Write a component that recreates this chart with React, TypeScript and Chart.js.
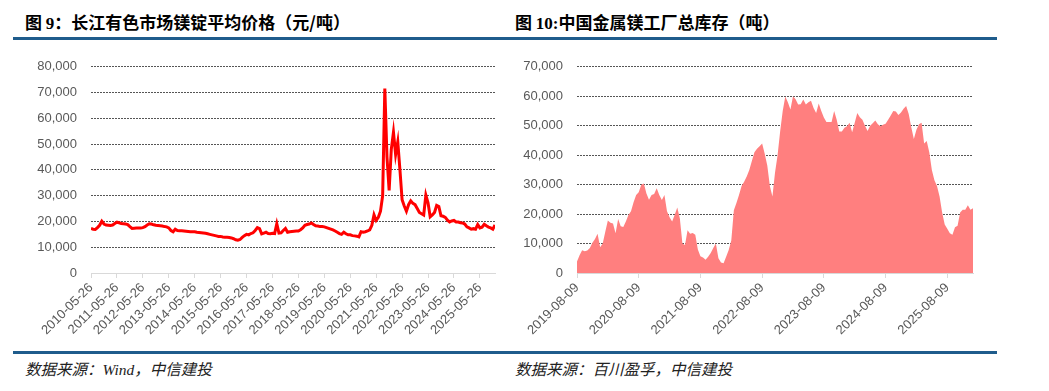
import React, { useEffect, useRef } from 'react';
import { Chart, registerables } from 'chart.js';

Chart.register(...registerables);

// ---- Figure 9: monthly Mg ingot price (yuan/ton), 2010-05 .. 2025-12 ----
const priceTickLabels = [
  '2010-05-26', '2011-05-26', '2012-05-26', '2013-05-26', '2014-05-26', '2015-05-26',
  '2016-05-26', '2017-05-26', '2018-05-26', '2019-05-26', '2020-05-26', '2021-05-26',
  '2022-05-26', '2023-05-26', '2024-05-26', '2025-05-26',
];
const priceValues = [
  17300, 17000, 16900, 17600, 18500, 20100, 19000, 18600, 18500, 18400, 18600, 19200,
  19700, 19500, 19200, 19100, 19000, 18800, 18000, 17300, 17400, 17500, 17500, 17500,
  17600, 18000, 18600, 19100, 19000, 18700, 18500, 18400, 18300, 18200, 18000, 17900,
  17500, 16500, 16000, 17000, 16500, 16400, 16400, 16300, 16200, 16100, 16000, 16000,
  16000, 15800, 15700, 15600, 15500, 15400, 15200, 15000, 14800, 14600, 14400, 14200,
  14200, 14000, 13900, 13900, 13800, 13600, 13300, 12900, 12700, 13000, 13800, 14500,
  15000, 14800, 15300, 15600, 16500, 17600, 17200, 15200, 15500, 15800, 15300, 15200,
  15400, 15300, 19100, 15500, 15600, 16500, 17300, 15800, 16000, 16100, 16200, 16300,
  16300, 16800, 17500, 18500, 18800, 19000, 19400, 18800, 18300, 18200, 18000, 18000,
  17900, 17600, 17300, 17000, 16700, 16300, 15800, 15300, 15000, 15800, 15200, 14800,
  14800, 14500, 14400, 14300, 14000, 16000, 15800, 16000, 16300, 16700, 18500, 22600,
  20400, 21600, 24000, 30000, 71600, 45000, 32000, 48000, 54600, 46000, 50900, 40000,
  28400, 26000, 24000, 26500, 28000, 27000, 26500, 25000, 23500, 23000, 22500, 30200,
  27200, 21800, 22500, 23500, 26200, 25800, 22200, 22000, 21600, 20500, 19800, 20200,
  20400, 19800, 19800, 19500, 19400, 19000, 17900, 17500, 17000, 17200, 17000, 18800,
  17500, 17800, 18900, 18300, 17800, 17500, 17000, 18600,
];
const priceTickIndex = priceTickLabels.map((_, i) => i * 12);

// ---- Figure 10: semi-monthly total Mg plant inventory (tons), 2019-08 .. 2026-01 ----
const stockTickLabels = [
  '2019-08-09', '2020-08-09', '2021-08-09', '2022-08-09', '2023-08-09', '2024-08-09', '2025-08-09',
];
const stockValues = [
  3900, 6000, 7700, 7400, 7600, 8500, 10300, 11500, 13300, 8700,
  10000, 14000, 17800, 17100, 16800, 13500, 18300, 15900, 15600, 17500,
  19700, 21000, 24000, 26500, 27400, 30000, 30400, 27000, 24900, 26500,
  26800, 28800, 26500, 24800, 26500, 21000, 18900, 17500, 19800, 22200,
  18500, 10000, 9500, 14500, 13300, 13600, 13000, 8000, 5700, 5300,
  4500, 5500, 6800, 8500, 10000, 5000, 3600, 3300, 5500, 7800,
  11000, 21300, 23800, 26500, 29500, 31000, 32800, 35000, 38000, 41000,
  42200, 43000, 44000, 40500, 36500, 29500, 26000, 34000, 40000, 48000,
  55000, 59900, 58000, 55500, 60000, 59000, 57200, 57300, 58900, 57200,
  58000, 58500, 56000, 54300, 57500, 55000, 52800, 51300, 51300, 51300,
  55000, 52000, 48000, 48000, 49300, 49800, 51000, 47800, 51000, 54300,
  52900, 52000, 50000, 48200, 50000, 50800, 51800, 50500, 49800, 50300,
  50700, 52000, 53500, 55000, 54800, 53600, 54500, 55800, 56700, 54000,
  49500, 45500, 48600, 50500, 51000, 44000, 44800, 41000, 35000, 31500,
  29500, 26000, 20500, 16500, 15000, 13500, 13000, 15500, 16000, 20500,
  21500, 21500, 23000, 21500, 22000,
];
const stockTickIndex = stockTickLabels.map((_, i) => i * 24);

const TICK_FONT = { family: '"Liberation Sans", Arial, sans-serif', size: 13 };
const TICK_COLOR = '#595959';

type PanelProps = {
  values: number[];
  tickIndex: number[];
  tickLabels: string[];
  yMax: number;
  yWidth: number;
  padRight: number;
  width: number;
  height: number;
  area: boolean;
  color: string;
};

function Panel(p: PanelProps) {
  const ref = useRef<HTMLCanvasElement>(null);
  useEffect(() => {
    if (!ref.current) return;
    const data = p.values.map((v, i) => ({ x: i, y: v }));
    const chart = new Chart(ref.current, {
      type: 'line',
      data: {
        datasets: [
          {
            data,
            borderColor: p.area ? 'rgba(0,0,0,0)' : p.color,
            borderWidth: p.area ? 0 : 3,
            backgroundColor: p.color,
            fill: p.area ? 'origin' : false,
            pointRadius: 0,
            tension: 0,
          },
        ],
      },
      options: {
        animation: false,
        responsive: false,
        maintainAspectRatio: false,
        events: [],
        layout: { padding: { top: 12, right: p.padRight, left: 0, bottom: 0 } },
        plugins: { legend: { display: false }, tooltip: { enabled: false } },
        scales: {
          x: {
            type: 'linear',
            min: 0,
            max: p.values.length - 1,
            afterBuildTicks: (s: any) => {
              s.ticks = p.tickIndex.map((v) => ({ value: v }));
            },
            afterFit: (s: any) => {
              s.height = 72;
            },
            grid: { drawOnChartArea: false, drawTicks: true, tickLength: 5, color: '#d9d9d9' },
            border: { display: true, color: '#d9d9d9' },
            ticks: {
              autoSkip: false,
              minRotation: 45,
              maxRotation: 45,
              padding: 2,
              color: TICK_COLOR,
              font: TICK_FONT,
              callback: (_v: any, i: number) => p.tickLabels[i],
            },
          },
          y: {
            min: 0,
            max: p.yMax,
            afterFit: (s: any) => {
              s.width = p.yWidth;
            },
            grid: {
              drawTicks: false,
              lineWidth: 1,
              color: (ctx: any) => (ctx.tick && ctx.tick.value === 0 ? 'rgba(0,0,0,0)' : '#555555'),
            },
            border: { display: false, dash: [2, 1] },
            ticks: {
              stepSize: 10000,
              padding: 14,
              color: TICK_COLOR,
              font: TICK_FONT,
              callback: (v: any) => Number(v).toLocaleString('en-US'),
            },
          },
        },
      } as any,
    });
    return () => chart.destroy();
  }, []);
  return (
    <canvas
      ref={ref}
      width={p.width}
      height={p.height}
      style={{ width: p.width, height: p.height, display: 'block' }}
    />
  );
}

const titleStyle: React.CSSProperties = {
  position: 'absolute',
  top: 12,
  fontFamily: '"Noto Sans CJK SC", sans-serif',
  fontWeight: 700,
  fontSize: 17,
  lineHeight: '20px',
  color: '#000',
  whiteSpace: 'nowrap',
};
const numStyle: React.CSSProperties = { fontFamily: '"Liberation Serif", serif', fontWeight: 700 };
const sourceStyle: React.CSSProperties = {
  position: 'absolute',
  top: 361,
  fontFamily: '"Liberation Serif", "Noto Sans CJK SC", serif',
  fontStyle: 'italic',
  fontSize: 15.5,
  lineHeight: '18px',
  color: '#222',
  whiteSpace: 'nowrap',
};
const ruleStyle: React.CSSProperties = {
  position: 'absolute',
  left: 13,
  width: 984,
  height: 3,
  background: '#1F5C8C',
};

export default function App() {
  return (
    <div style={{ position: 'absolute', left: 0, top: 0, width: 1049, height: 391, background: '#fff', overflow: 'hidden' }}>
      <div style={{ ...titleStyle, left: 25 }}>
        图 <span style={numStyle}>9</span>：长江有色市场镁锭平均价格（元/吨）
      </div>
      <div style={{ ...titleStyle, left: 515 }}>
        图 <span style={numStyle}>10:</span>中国金属镁工厂总库存（吨）
      </div>
      <div style={{ ...ruleStyle, top: 37 }} />
      <div style={{ position: 'absolute', left: 0, top: 45 }}>
        <Panel
          values={priceValues}
          tickIndex={priceTickIndex}
          tickLabels={priceTickLabels}
          yMax={80000}
          yWidth={91}
          padRight={10}
          width={505}
          height={300}
          area={false}
          color="#FF0000"
        />
      </div>
      <div style={{ position: 'absolute', left: 505, top: 45 }}>
        <Panel
          values={stockValues}
          tickIndex={stockTickIndex}
          tickLabels={stockTickLabels}
          yMax={70000}
          yWidth={72}
          padRight={52}
          width={520}
          height={300}
          area={true}
          color="#FF7F7F"
        />
      </div>
      <div style={{ ...ruleStyle, top: 351 }} />
      <div style={{ ...sourceStyle, left: 25 }}>数据来源：Wind，中信建投</div>
      <div style={{ ...sourceStyle, left: 515 }}>数据来源：百川盈孚，中信建投</div>
    </div>
  );
}
